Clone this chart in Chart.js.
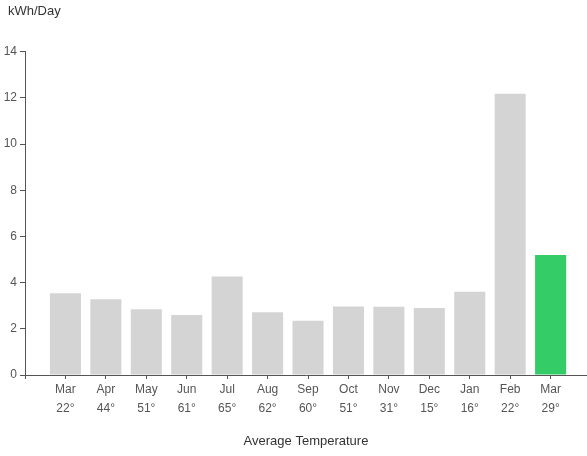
<!DOCTYPE html>
<html>
<head>
<meta charset="utf-8">
<script src="https://cdn.jsdelivr.net/npm/chart.js@4/dist/chart.umd.min.js"></script>
<style>
  html, body { margin: 0; padding: 0; background: #fff; }
  #wrap { width: 587px; height: 456px; }
</style>
</head>
<body>
<div id="wrap"><canvas id="c" width="587" height="456"></canvas></div>
<script>
const months = ["Mar", "Apr", "May", "Jun", "Jul", "Aug", "Sep", "Oct", "Nov", "Dec", "Jan", "Feb", "Mar"];
const temps = ["22°", "44°", "51°", "61°", "65°", "62°", "60°", "51°", "31°", "15°", "16°", "22°", "29°"];
const kwhPerDay = [3.54, 3.28, 2.85, 2.6, 4.26, 2.72, 2.35, 2.96, 2.95, 2.9, 3.6, 12.17, 5.19];
const yTicks = [0, 2, 4, 6, 8, 10, 12, 14];
const unitLabel = "kWh/Day";
const xTitle = "Average Temperature";

const GRAY = "#d4d4d4";
const GREEN = "#33cc66";
const FONT = "'Liberation Sans', Arial, sans-serif";

const shiftTitle = {
  id: "shiftTitle",
  afterLayout(chart) {
    if (chart.titleBlock) { chart.titleBlock.left += 6; chart.titleBlock.right += 6; }
  }
};

new Chart(document.getElementById("c"), {
  type: "bar",
  plugins: [shiftTitle],
  data: {
    datasets: [{
      data: kwhPerDay.map((v, i) => ({ x: i, y: v })),
      backgroundColor: kwhPerDay.map((v, i) => i === kwhPerDay.length - 1 ? GREEN : GRAY),
      borderWidth: 0,
      barPercentage: 0.96,
      categoryPercentage: 0.8
    }]
  },
  options: {
    responsive: false,
    animation: false,
    devicePixelRatio: 1,
    layout: { padding: { left: 2, right: 0, top: 0, bottom: 7 } },
    plugins: {
      legend: { display: false },
      tooltip: { enabled: false },
      title: {
        display: true,
        text: unitLabel,
        align: "start",
        color: "#333",
        font: { family: FONT, size: 13, weight: "normal" },
        padding: { top: 4, bottom: 32 }
      }
    },
    scales: {
      x: {
        type: "linear",
        min: -1,
        max: 12.9,
        offset: false,
        afterBuildTicks: s => {
          s.ticks = [{ value: -1 }].concat(months.map((m, i) => ({ value: i })));
        },
        ticks: {
          stepSize: 1,
          autoSkip: false,
          maxRotation: 0,
          padding: 1,
          color: "#555",
          font: { family: FONT, size: 12, lineHeight: 1.6 },
          callback: v => (v >= 0 && v < months.length) ? [months[v], temps[v]] : ""
        },
        grid: {
          display: true,
          offset: false,
          drawOnChartArea: false,
          drawTicks: true,
          tickLength: 4,
          tickColor: "#555"
        },
        border: { display: true, color: "#555", width: 1 },
        title: {
          display: true,
          text: xTitle,
          color: "#333",
          font: { family: FONT, size: 13 },
          padding: { top: 14, bottom: 0 }
        }
      },
      y: {
        min: 0,
        max: 14,
        afterBuildTicks: s => { s.ticks = yTicks.map(v => ({ value: v })); },
        afterFit: s => { s.width = 23; },
        ticks: {
          padding: 3,
          color: "#555",
          font: { family: FONT, size: 12 }
        },
        grid: {
          display: true,
          drawOnChartArea: false,
          drawTicks: true,
          tickLength: 5,
          tickColor: "#555"
        },
        border: { display: true, color: "#555", width: 1 }
      }
    }
  }
});
</script>
</body>
</html>
